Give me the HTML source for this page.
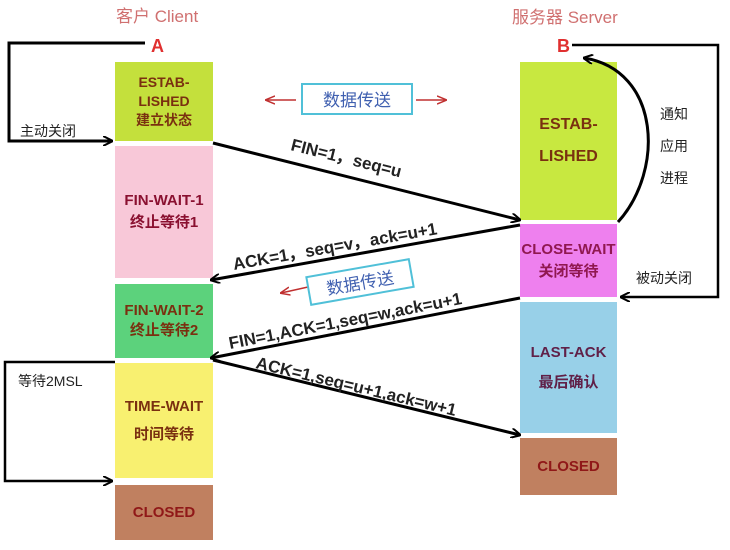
<!DOCTYPE html>
<html><head><meta charset="utf-8"><style>
body{margin:0;width:730px;height:550px;background:#fff;overflow:hidden;position:relative;font-family:"Liberation Sans","Noto Sans CJK SC",sans-serif}
.b{position:absolute;display:flex;flex-direction:column;align-items:center;justify-content:center;text-align:center;font-weight:bold;font-size:15px;line-height:22px}
.t{position:absolute;font-size:14px;color:#222;white-space:nowrap}
</style></head><body>
<div class="t" style="left:116px;top:2px;color:#d07070;font-size:17px">客户 Client</div>
<div class="t" style="left:512px;top:3px;color:#d07070;font-size:17px">服务器 Server</div>
<div class="t" style="left:151px;top:36px;color:#e03030;font-size:18px;font-weight:bold">A</div>
<div class="t" style="left:557px;top:36px;color:#e03030;font-size:18px;font-weight:bold">B</div>

<div class="b" style="left:115px;top:62px;width:98px;height:79px;background:#c4e03c;color:#7a3010;font-size:14px;line-height:19px">ESTAB-<br>LISHED<br>建立状态</div>
<div class="b" style="left:115px;top:146px;width:98px;height:132px;background:#f8c8d8;color:#8a1030">FIN-WAIT-1<br>终止等待1</div>
<div class="b" style="left:115px;top:284px;width:98px;height:74px;background:#5cd27c;color:#7a3010;line-height:20px">FIN-WAIT-2<br>终止等待2</div>
<div class="b" style="left:115px;top:363px;width:98px;height:115px;background:#f8f070;color:#7a3010;line-height:28px">TIME-WAIT<br>时间等待</div>
<div class="b" style="left:115px;top:485px;width:98px;height:55px;background:#c08060;color:#901818">CLOSED</div>

<div class="b" style="left:520px;top:62px;width:97px;height:158px;background:#c8e840;color:#7a3010;font-size:16px;line-height:32px">ESTAB-<br>LISHED</div>
<div class="b" style="left:520px;top:224px;width:97px;height:73px;background:#ee80ee;color:#901850">CLOSE-WAIT<br>关闭等待</div>
<div class="b" style="left:520px;top:302px;width:97px;height:131px;background:#98d0e8;color:#602048;line-height:30px">LAST-ACK<br>最后确认</div>
<div class="b" style="left:520px;top:438px;width:97px;height:57px;background:#c08060;color:#901818">CLOSED</div>

<svg width="730" height="550" style="position:absolute;left:0;top:0">
<defs><marker id="a" markerWidth="10" markerHeight="10" refX="9" refY="5" orient="auto" markerUnits="userSpaceOnUse"><path d="M0,0 L10,5 L0,10" fill="none" stroke="#000" stroke-width="2"/></marker>
<marker id="r" markerWidth="10" markerHeight="10" refX="9" refY="5" orient="auto" markerUnits="userSpaceOnUse"><path d="M0,1 L10,5 L0,9" fill="none" stroke="#c03030" stroke-width="1.5"/></marker></defs>
<g stroke="#000" stroke-width="3" fill="none">
<polyline points="145,43 9,43 9,141 112,141" marker-end="url(#a)"/>
<polyline points="115,362 5,362 5,481 112,481" stroke-width="2.5" marker-end="url(#a)"/>
<polyline points="572,45 718,45 718,297 621,297" stroke-width="2.5" marker-end="url(#a)"/>
<path d="M618,222 C665,170 660,70 584,58" marker-end="url(#a)"/>
<line x1="213" y1="143" x2="520" y2="220" marker-end="url(#a)"/>
<line x1="520" y1="225" x2="211" y2="280" marker-end="url(#a)"/>
<line x1="520" y1="298" x2="211" y2="358" marker-end="url(#a)"/>
<line x1="213" y1="360" x2="520" y2="435" marker-end="url(#a)"/>
</g>
<g stroke="#c03030" stroke-width="1.5">
<line x1="296" y1="100" x2="266" y2="100" marker-end="url(#r)"/>
<line x1="416" y1="100" x2="446" y2="100" marker-end="url(#r)"/>
<line x1="308" y1="287" x2="281" y2="293" marker-end="url(#r)"/>
</g>
<rect x="302" y="84" width="110" height="30" fill="#fff" stroke="#50c0d8" stroke-width="2"/>
<text x="357" y="106" text-anchor="middle" font-size="17" fill="#4060b0" font-family="Liberation Sans,Noto Sans CJK SC,sans-serif">数据传送</text>
<g transform="rotate(-10 360 282)">
<rect x="308" y="268" width="104" height="28" fill="#fff" stroke="#50c0d8" stroke-width="2"/>
<text x="360" y="289" text-anchor="middle" font-size="17" fill="#4060b0" font-family="Liberation Sans,Noto Sans CJK SC,sans-serif">数据传送</text>
</g>
<g font-family="Liberation Sans,sans-serif" font-size="17" fill="#222" font-weight="600">
<text transform="translate(290,150) rotate(14)">FIN=1，seq=u</text>
<text transform="translate(234,270) rotate(-10)">ACK=1，seq=v，ack=u+1</text>
<text transform="translate(230,349) rotate(-11)">FIN=1,ACK=1,seq=w,ack=u+1</text>
<text transform="translate(255,368) rotate(13.5)">ACK=1,seq=u+1,ack=w+1</text>
</g>
</svg>
<div class="t" style="left:20px;top:121px">主动关闭</div>
<div class="t" style="left:18px;top:371px">等待2MSL</div>
<div class="t" style="left:636px;top:268px">被动关闭</div>
<div class="t" style="left:660px;top:98px;line-height:32px">通知<br>应用<br>进程</div>
</body></html>
